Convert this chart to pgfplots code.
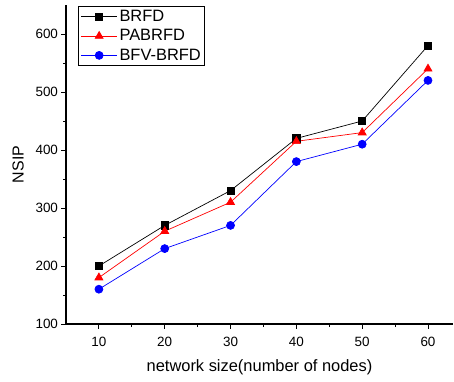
\documentclass[border=0pt]{standalone}
\usepackage{fontspec}
\setmainfont{Liberation Sans}
\usepackage{pgfplots}
\pgfplotsset{compat=1.18}
\begin{document}
\begin{tikzpicture}[x=1bp,y=1bp]
\begin{axis}[
  at={(0,0)}, anchor=south west,
  scale only axis,
  width=387bp, height=319bp,
  xmin=5, xmax=63.8, ymin=100, ymax=650,
  axis x line=bottom, axis y line=left,
  axis line style={-, line width=1.1pt},
  xtick={10,20,30,40,50,60},
  ytick={100,200,300,400,500,600},
  minor x tick num=1, minor y tick num=1,
  tick align=outside,
  major tick length=4.5bp, minor tick length=3bp,
  tick style={black, line width=1pt},
  ticklabel style={font=\fontsize{13.5}{15}\selectfont},
  xticklabel style={yshift=-5bp},
  /pgf/number format/assume math mode=true,
  xlabel={network size(number of nodes)},
  ylabel={NSIP},
  xlabel style={font=\fontsize{16.5}{18}\selectfont, yshift=-6bp},
  ylabel style={font=\fontsize{16}{18}\selectfont, yshift=5bp},
  clip=false,
  legend style={at={(0.032,0.997)}, anchor=north west, draw=black, line width=0.9pt,
    font=\fontsize{16.5}{18}\selectfont, inner sep=2bp, row sep=2.5bp, cells={anchor=west}},
  legend cell align=left,
  legend image code/.code={\draw[mark repeat=2,mark phase=2] plot coordinates {(0bp,0bp) (18bp,0bp) (36bp,0bp)};},
]
\addplot[black, line width=0.7pt, mark=square*, mark size=3.6bp, mark options={solid}] coordinates {(10,200) (20,270) (30,330) (40,420) (50,450) (60,580)};
\addlegendentry{BRFD}
\addplot[red, line width=0.7pt, mark=triangle*, mark size=4.6bp] coordinates {(10,180) (20,260) (30,310) (40,415) (50,430) (60,540)};
\addlegendentry{PABRFD}
\addplot[blue, line width=0.7pt, mark=*, mark size=4bp] coordinates {(10,160) (20,230) (30,270) (40,380) (50,410) (60,520)};
\addlegendentry{BFV-BRFD}
\end{axis}
\pgfresetboundingbox
\path[use as bounding box] (-66,-57) rectangle (388,324);
\end{tikzpicture}
\end{document}
